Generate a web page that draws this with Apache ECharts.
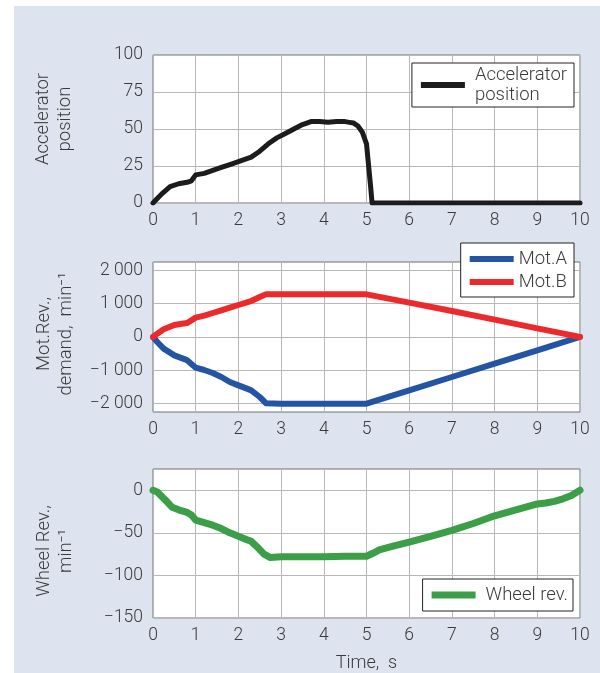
<!DOCTYPE html>
<html>
<head>
<meta charset="utf-8">
<script src="https://cdn.jsdelivr.net/npm/echarts@6/dist/echarts.min.js"></script>
<style>
    body { margin: 0; background: #fff; }
    #bg { position: absolute; left: 14px; top: 6px; width: 586px; height: 667px; background: #dde4ef; }
    #main { position: absolute; left: 0; top: 0; width: 600px; height: 673px; }
</style>
</head>
<body>
<div id="bg"></div>
<div id="main"></div>
<script>
// accelerator pedal, %
var accelT = [0,0.1,0.2,0.4,0.6,0.8,0.9,1.0,1.2,1.4,1.6,1.8,2.0,2.2,2.3,2.5,2.7,2.9,3.1,3.3,3.5,3.7,3.9,4.1,4.3,4.5,4.6,4.7,4.8,4.9,5.0,5.05,5.1,5.13,6,7,8,9,10];
var accelV = [0,3,6,11,13,14,15,19,20,22,24,26,28,30,31,35,40,44,47,50,53,55,55,54.5,55,55,54.5,54,52,48,40,25,10,0,0,0,0,0,0];

// motor demand, min-1
var motT = [0,0.1,0.25,0.5,0.75,0.8,1.0,1.2,1.4,1.6,1.8,2.0,2.2,2.3,2.5,2.65,3,4,5,6,7,8,9,9.5,10];
var motA = [0,-150,-350,-550,-670,-700,-920,-990,-1080,-1200,-1350,-1450,-1550,-1600,-1800,-1990,-2000,-2000,-2000,-1600,-1200,-800,-400,-200,0];
var motB = [0,100,230,360,410,420,580,640,720,800,880,960,1040,1080,1200,1280,1280,1280,1280,1030,780,520,260,130,0];

// wheel rev, min-1
var wheelT = [0,0.1,0.2,0.3,0.45,0.6,0.8,0.9,1.0,1.2,1.4,1.6,1.8,2.0,2.2,2.3,2.45,2.6,2.75,3,3.5,4,4.5,5,5.15,5.3,5.6,6,6.5,7,7.5,8,8.5,9,9.2,9.4,9.6,9.8,10];
var wheelV = [0,-2,-7,-12,-20,-23,-26,-29,-35,-38,-41,-45,-50,-54,-58,-60,-67,-75,-79,-78,-78,-78,-77.5,-77.5,-74,-70,-66,-61,-54,-47,-39,-30,-23,-16,-15,-13,-10,-6,0];

var font = 'Roboto, "Liberation Sans", sans-serif';
var weight = 300;
var txt = '#3a3a3a';
var gridLine = '#b8b8b8';
var frame = '#707070';

function pairs(t, v) {
    return t.map(function (x, i) { return [x, v[i]]; });
}
function thousands(v) {
    var s = String(Math.abs(v)).replace(/\B(?=(\d{3})+(?!\d))/g, ' ');
    return (v < 0 ? '\u2212' : '') + s;
}

function xAxis(i, extra) {
    var a = {
        type: 'value', gridIndex: i, min: 0, max: 10, interval: 1,
        axisLine: { show: false }, axisTick: { show: false },
        axisLabel: { color: txt, fontSize: 17.5, fontFamily: font, fontWeight: weight, margin: 9 },
        splitLine: { show: true, lineStyle: { color: gridLine, width: 1 } }
    };
    for (var k in extra) a[k] = extra[k];
    return a;
}

var legendText = { color: txt, fontSize: 18.5, lineHeight: 20, fontFamily: font, fontWeight: weight };

var myChart = echarts.init(document.getElementById('main'));
var option = {
    backgroundColor: 'transparent',
    animation: false,
    grid: [
        { left: 153, top: 55, width: 427, height: 148, show: true, backgroundColor: '#fff', borderColor: frame, borderWidth: 1 },
        { left: 153, top: 262, width: 427, height: 150, show: true, backgroundColor: '#fff', borderColor: frame, borderWidth: 1 },
        { left: 153, top: 469, width: 427, height: 149, show: true, backgroundColor: '#fff', borderColor: frame, borderWidth: 1 }
    ],
    xAxis: [
        xAxis(0, {}),
        xAxis(1, {}),
        xAxis(2, {
            name: 'Time,  s', nameLocation: 'middle', nameGap: 36,
            nameTextStyle: { color: txt, fontSize: 18, fontFamily: font, fontWeight: weight }
        })
    ],
    yAxis: [
        {
            type: 'value', gridIndex: 0, min: 0, max: 100, interval: 25,
            axisLine: { show: false }, axisTick: { show: false },
            axisLabel: { color: txt, fontSize: 17.5, fontFamily: font, fontWeight: weight, margin: 10 },
            splitLine: { lineStyle: { color: gridLine, width: 1 } }
        },
        {
            type: 'value', gridIndex: 1, min: -2250, max: 2250, interval: 250,
            axisLine: { show: false }, axisTick: { show: false },
            axisLabel: {
                color: txt, fontSize: 17.5, fontFamily: font, fontWeight: weight, margin: 10,
                formatter: function (v) { return v % 1000 === 0 ? thousands(v) : ''; }
            },
            splitLine: { lineStyle: { color: ['rgba(0,0,0,0)', gridLine, 'rgba(0,0,0,0)', 'rgba(0,0,0,0)'], width: 1 } }
        },
        {
            type: 'value', gridIndex: 2, min: -150, max: 25, interval: 25,
            axisLine: { show: false }, axisTick: { show: false },
            axisLabel: {
                color: txt, fontSize: 17.5, fontFamily: font, fontWeight: weight, margin: 10,
                formatter: function (v) { return (v % 50 === 0 && v <= 0) ? thousands(v) : ''; }
            },
            splitLine: { lineStyle: { color: [gridLine, 'rgba(0,0,0,0)'], width: 1 } }
        }
    ],
    legend: [
        {
            data: ['Accelerator\nposition'], right: 26, top: 63, orient: 'vertical',
            icon: 'rect', itemWidth: 44, itemHeight: 6,
            backgroundColor: '#fff', borderColor: '#222', borderWidth: 1, borderRadius: 0,
            padding: [2, 7, 2, 9],
            textStyle: Object.assign({ padding: [0, 0, 0, 5] }, legendText)
        },
        {
            data: ['Mot.A', 'Mot.B'], right: 26, top: 243, orient: 'vertical',
            icon: 'rect', itemWidth: 44, itemHeight: 6, itemGap: 3,
            backgroundColor: '#fff', borderColor: '#222', borderWidth: 1, borderRadius: 0,
            padding: [6, 7, 5, 9],
            textStyle: legendText
        },
        {
            data: ['Wheel rev.'], right: 27, top: 579, orient: 'vertical',
            icon: 'rect', itemWidth: 44, itemHeight: 7,
            backgroundColor: '#fff', borderColor: '#222', borderWidth: 1, borderRadius: 0,
            padding: [6, 5, 6, 9],
            textStyle: Object.assign({ padding: [0, 0, 0, 5] }, legendText)
        }
    ],
    graphic: [
        {
            type: 'text', x: 54, y: 119, rotation: Math.PI / 2,
            style: { text: 'Accelerator\nposition', align: 'center', verticalAlign: 'middle', fontSize: 18.5, lineHeight: 22, fill: txt, fontFamily: font, fontWeight: weight }
        },
        {
            type: 'text', x: 55, y: 334, rotation: Math.PI / 2,
            style: { text: 'Mot.Rev.,\ndemand,  min\u207B\u00B9', align: 'center', verticalAlign: 'middle', fontSize: 18.5, lineHeight: 22, fill: txt, fontFamily: font, fontWeight: weight }
        },
        {
            type: 'text', x: 55, y: 551, rotation: Math.PI / 2,
            style: { text: 'Wheel Rev.,\nmin\u207B\u00B9', align: 'center', verticalAlign: 'middle', fontSize: 18.5, lineHeight: 22, fill: txt, fontFamily: font, fontWeight: weight }
        }
    ],
    series: [
        {
            name: 'Accelerator\nposition', type: 'line', xAxisIndex: 0, yAxisIndex: 0,
            data: pairs(accelT, accelV), showSymbol: false, color: '#1c1c1c',
            lineStyle: { width: 5, cap: 'round', join: 'round' }
        },
        {
            name: 'Mot.A', type: 'line', xAxisIndex: 1, yAxisIndex: 1,
            data: pairs(motT, motA), showSymbol: false, color: '#2454a4',
            lineStyle: { width: 6, cap: 'round', join: 'round' }
        },
        {
            name: 'Mot.B', type: 'line', xAxisIndex: 1, yAxisIndex: 1,
            data: pairs(motT, motB), showSymbol: false, color: '#ec2a2c',
            lineStyle: { width: 6, cap: 'round', join: 'round' }
        },
        {
            name: 'Wheel rev.', type: 'line', xAxisIndex: 2, yAxisIndex: 2,
            data: pairs(wheelT, wheelV), showSymbol: false, color: '#3a9f46',
            lineStyle: { width: 7, cap: 'round', join: 'round' }
        }
    ]
};
myChart.setOption(option);
</script>
</body>
</html>
